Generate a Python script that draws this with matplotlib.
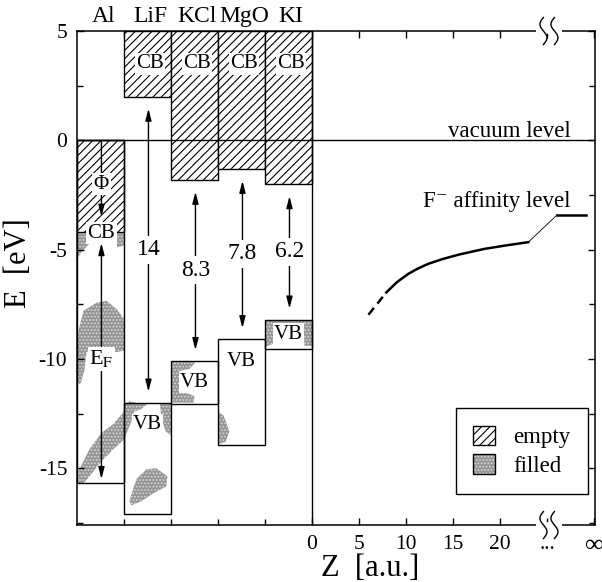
import matplotlib
matplotlib.use("Agg")
import numpy as np
import matplotlib.pyplot as plt
from matplotlib.patches import Rectangle, Polygon, Patch
from matplotlib.legend_handler import HandlerTuple

plt.rcParams["font.family"] = ["Liberation Serif", "DejaVu Serif"]
plt.rcParams["mathtext.fontset"] = "stix"
plt.rcParams["axes.unicode_minus"] = False
plt.rcParams["hatch.linewidth"] = 0.8

# ---------------- data ----------------
materials = ["Al", "LiF", "KCl", "MgO", "KI"]
cb_bottom = [-4.2, 2.0, -1.8, -1.3, -2.0]      # Al: Fermi level; others: conduction band minimum
band_gap = [None, 14, 8.3, 7.8, 6.2]           # eV
vb_bottom = [-15.7, -17.1, -12.05, -13.95, -9.55]
band_top = 5.0
vacuum_level = 0.0
f_affinity = -3.4

# F- affinity level versus distance Z from the surface
z_aff_dashed = [6.0, 7.9]
e_aff_dashed = [-7.98, -6.96]
z_aff = [7.9, 9.0, 10.2, 11.2, 12.3, 13.9, 15.6, 18.3, 20.6, 23.0]
e_aff = [-6.96, -6.50, -6.12, -5.88, -5.66, -5.43, -5.23, -4.97, -4.81, -4.66]
z_aff_inf = [26.1, 29.1]

x_ticks = [0, 5, 10, 15, 20, 25, 30]
x_tick_labels = ["0", "5", "10", "15", "20", "...", "\u221e"]
y_ticks = [-15, -10, -5, 0, 5]

# occupied-state regions (filled)
fill_al_a = [(-25, -4.25), (-23.3, -4.25), (-23.6, -4.7), (-24.3, -5.0), (-25, -5.4)]
fill_al_b = [(-21.0, -4.25), (-20, -4.25), (-20, -4.8), (-20.7, -4.9)]
fill_al_c = [(-24.84, -8.72), (-24.31, -7.80), (-22.93, -7.43), (-21.87, -7.34), (-20.81, -7.71),
             (-20.0, -8.17), (-20.0, -9.63), (-21.34, -9.72), (-22.40, -9.40), (-23.67, -9.63),
             (-25.0, -9.86)]
fill_al_d = [(-25, -9.6), (-24.0, -9.7), (-24.2, -10.5), (-24.6, -11.1), (-25, -11.2)]
fill_al_e = [(-24.84, -15.69), (-24.84, -15.14), (-23.67, -14.13), (-22.40, -13.39), (-21.13, -12.98),
             (-19.96, -12.39), (-19.43, -11.93), (-18.68, -12.02), (-19.21, -12.84), (-19.96, -13.67),
             (-21.13, -14.13), (-22.40, -14.68), (-23.67, -15.37), (-24.31, -15.69)]
fill_lif_a = [(-20, -12.06), (-17.5, -12.06), (-18.2, -12.3), (-19.5, -12.5), (-20, -12.8)]
fill_lif_b = [(-16.2, -12.06), (-15.0, -12.06), (-15.0, -13.5), (-15.6, -13.3), (-16.0, -12.7)]
fill_lif_c = [(-19.43, -16.51), (-18.68, -15.50), (-17.62, -15.05), (-16.56, -15.00), (-15.39, -15.37),
              (-15.50, -15.83), (-16.88, -16.15), (-18.15, -16.51), (-19.21, -16.70)]
fill_kcl = [(-15, -10.15), (-12.4, -10.15), (-13.0, -10.45), (-14.0, -10.55), (-14.1, -11.45),
            (-12.5, -11.7), (-12.6, -12.0), (-15, -12.0)]
fill_mgo = [(-10, -12.4), (-9.4, -12.6), (-8.8, -13.3), (-9.2, -13.8), (-10, -13.9)]
fill_ki = [(-5, -8.22), (0, -8.22), (0, -9.4), (-0.8, -9.4), (-0.9, -8.5), (-4.1, -8.5),
           (-4.1, -9.3), (-5, -9.45)]
filled_regions = [fill_al_a, fill_al_b, fill_al_c, fill_al_d, fill_al_e, fill_lif_a, fill_lif_b,
                  fill_lif_c, fill_kcl, fill_mgo, fill_ki]

# ---------------- figure ----------------
fig = plt.figure(figsize=(6.02, 5.82), dpi=100)
ax = fig.add_axes([0.1279, 0.0979, 0.8605, 0.8488])
ax.set_xlim(-25, 30.1)
ax.set_ylim(-17.6, 5)

col_w = 5.0
fill_face = "#969696"
hatch_empty = "////"
with plt.rc_context({"hatch.color": "#d8d8d8"}):
    for poly in filled_regions:
        ax.add_patch(Polygon(poly, closed=True, facecolor=fill_face, hatch=".....",
                             linewidth=0, zorder=1))
    filled_handle = Patch(facecolor=fill_face, hatch=".....", linewidth=0)

lbl_fs = 15
white_box = dict(facecolor="white", edgecolor="none", pad=1.0)
arrow_kw = dict(arrowstyle="<|-|>,head_length=0.7,head_width=0.18", color="black",
                lw=1.0, mutation_scale=10, shrinkA=0, shrinkB=0)

for i, name in enumerate(materials):
    x0 = -25 + i * col_w
    xc = x0 + col_w / 2
    if band_gap[i] is None:
        # metal: empty states between Fermi level and vacuum
        ef = cb_bottom[i]
        ax.add_patch(Rectangle((x0, ef), col_w, vacuum_level - ef, facecolor="white",
                               edgecolor="black", hatch=hatch_empty, lw=1.0, zorder=2))
        ax.add_patch(Rectangle((x0, vb_bottom[i]), col_w, vacuum_level - vb_bottom[i],
                               fill=False, edgecolor="black", lw=1.0, zorder=3))
        xa = xc + 0.1
        ax.annotate("", xy=(xa, ef + 0.7), xytext=(xa, vacuum_level),
                    arrowprops=dict(arrowstyle="-|>,head_length=0.7,head_width=0.18",
                                    color="black", lw=1.0, mutation_scale=10,
                                    shrinkA=0, shrinkB=0), zorder=4)
        ax.text(xa, (vacuum_level + ef) / 2 + 0.1, "\u03a6", ha="center", va="center",
                fontsize=15, bbox=white_box, zorder=5)
        ax.text(xa, ef - 0.05, "CB", ha="center", va="center", fontsize=lbl_fs,
                bbox=white_box, zorder=5)
        ax.annotate("", xy=(xa, ef - 0.5), xytext=(xa, vb_bottom[i] + 0.2),
                    arrowprops=arrow_kw, zorder=4)
        ax.text(xa, -10.0, r"E$_\mathrm{F}$", ha="center", va="center", fontsize=16,
                bbox=white_box, zorder=5)
    else:
        cb = cb_bottom[i]
        vb_top = cb - band_gap[i]
        ax.add_patch(Rectangle((x0, cb), col_w, band_top - cb, facecolor="white",
                               edgecolor="black", hatch=hatch_empty, lw=1.0, zorder=2))
        ax.add_patch(Rectangle((x0, vb_bottom[i]), col_w, vb_top - vb_bottom[i],
                               fill=False, edgecolor="black", lw=1.0, zorder=3))
        ax.text(xc + 0.25, 3.5, "CB", ha="center", va="center", fontsize=lbl_fs,
                bbox=white_box, zorder=5)
        vb_y = max(vb_top - 1.0, (vb_top + vb_bottom[i]) / 2)
        ax.text(xc, vb_y, "VB", ha="center", va="center", fontsize=lbl_fs,
                bbox=white_box, zorder=5)
        xa = xc + 0.1
        ax.annotate("", xy=(xa, cb - 0.55), xytext=(xa, vb_top + 0.5),
                    arrowprops=arrow_kw, zorder=4)
        ax.text(xa, (cb + vb_top) / 2, f"{band_gap[i]:g}", ha="center", va="center",
                fontsize=17, bbox=dict(facecolor="white", edgecolor="none", pad=2.5),
                zorder=5)
    ax.text(xc + 0.3, 5.68, name, ha="center", va="center", fontsize=17, clip_on=False)

# vacuum level and surface plane
ax.axhline(vacuum_level, color="black", lw=1.0, zorder=3)
ax.axvline(0, color="black", lw=1.0, zorder=3)
ax.text(27.5, vacuum_level + 0.15, "vacuum level", ha="right", va="baseline", fontsize=16.5)

# F- affinity level
ax.plot(z_aff_dashed, e_aff_dashed, color="black", lw=1.8, ls=(0, (3.5, 2.2)),
        solid_capstyle="butt")
ax.plot(z_aff, e_aff, color="black", lw=1.8)
ax.plot([z_aff[-1], z_aff_inf[0]], [e_aff[-1], f_affinity], color="black", lw=0.6)
ax.plot(z_aff_inf, [f_affinity, f_affinity], color="black", lw=1.8)
ax.text(27.5, -3.06, "F\u207b affinity level", ha="right", va="baseline", fontsize=16.5)

# axes styling
for sp in ax.spines.values():
    sp.set_linewidth(1.1)
ax.set_xticks(x_ticks)
ax.set_xticklabels(x_tick_labels, fontsize=15.5)
ax.get_xticklabels()[-1].set_fontsize(19)
ax.set_xticks([-20, -15, -10, -5], minor=True)
ax.set_yticks(y_ticks)
ax.set_yticklabels([f"{v:d}" for v in y_ticks], fontsize=15.5)
ax.set_yticks(np.arange(-17.5, 5.1, 2.5), minor=True)
ax.tick_params(which="both", direction="in", top=True, right=True, width=1.0)
ax.tick_params(which="major", length=5)
ax.tick_params(which="minor", length=4)
ax.tick_params(axis="x", which="major", pad=7)
ax.tick_params(axis="y", which="major", pad=7)

ax.set_xlabel("Z  [a.u.]", fontsize=22)
ax.xaxis.set_label_coords(0.566, -0.058)
ax.set_ylabel("E  [eV]", fontsize=22)
ax.yaxis.set_label_coords(-0.085, 0.53)

# axis break on the Z axis
W, H = 518.0, 494.0
zb = 25.2
xf = (zb - ax.get_xlim()[0]) / (ax.get_xlim()[1] - ax.get_xlim()[0])
s = np.linspace(-1, 1, 40)
for yf in (0.0, 1.0):
    ax.plot([xf - 13 / W, xf + 13 / W], [yf, yf], transform=ax.transAxes, color="white",
            lw=4, clip_on=False, zorder=6, solid_capstyle="butt")
    for off in (-5.5, 5.5):
        ax.plot(xf + (off + 3.5 * np.sin(np.pi * s)) / W, yf + (-13.5 * s) / H,
                transform=ax.transAxes, color="black", lw=1.0, clip_on=False, zorder=7)

# legend
empty_handle = Patch(facecolor="white", edgecolor="black", hatch=hatch_empty, lw=1.0)
border = Patch(fill=False, edgecolor="black", lw=1.0)
leg = ax.legend([empty_handle, (filled_handle, border)], ["empty", "filled"],
                handler_map={tuple: HandlerTuple(ndivide=1)},
                loc="lower right", bbox_to_anchor=(0.9865, 0.0628), borderaxespad=0,
                fontsize=16.5, fancybox=False, framealpha=1, edgecolor="black",
                handlelength=0.95, handleheight=0.95, handletextpad=0.8,
                labelspacing=0.25, borderpad=0.75)
leg.get_frame().set_linewidth(1.0)

fig.savefig("out.png", dpi=100)
